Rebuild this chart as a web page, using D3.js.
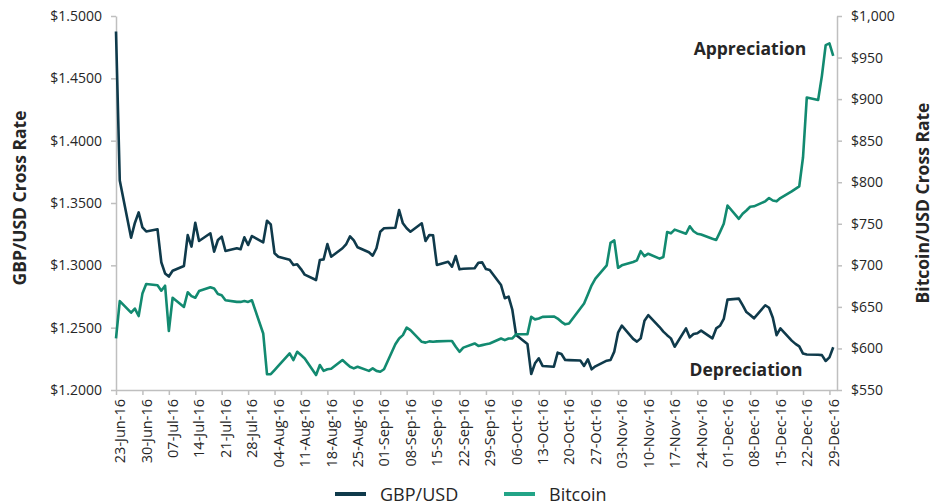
<!DOCTYPE html>
<html>
  <head>
    <meta charset="utf-8" />
    <style>
      body {
        margin: 0;
        background: #fff;
      }
      svg text {
        font-family: "Open Sans", Lato, sans-serif;
        fill: #262626;
      }
      .axis .domain {
        stroke: #bfbfbf;
        stroke-width: 1.5px;
      }
      .axis .tick line {
        stroke: #bfbfbf;
        stroke-width: 1.5px;
      }
      .axis text {
        font-size: 14px;
      }
      .title {
        font-size: 17.5px;
        font-weight: bold;
      }
      .note {
        font-size: 17.5px;
        font-weight: bold;
      }
    </style>
  </head>

  <body>
    <svg width="937" height="504"></svg>
  </body>

  <script src="https://d3js.org/d3.v7.min.js"></script>

  <script>
    // weekday dates (trading days)
    let dates = [
      "23-Jun-16", "24-Jun-16", "27-Jun-16", "28-Jun-16", "29-Jun-16", "30-Jun-16",
      "01-Jul-16", "04-Jul-16", "05-Jul-16", "06-Jul-16", "07-Jul-16", "08-Jul-16",
      "11-Jul-16", "12-Jul-16", "13-Jul-16", "14-Jul-16", "15-Jul-16", "18-Jul-16",
      "19-Jul-16", "20-Jul-16", "21-Jul-16", "22-Jul-16", "25-Jul-16", "26-Jul-16",
      "27-Jul-16", "28-Jul-16", "29-Jul-16",
      "01-Aug-16", "02-Aug-16", "03-Aug-16", "04-Aug-16", "05-Aug-16", "08-Aug-16",
      "09-Aug-16", "10-Aug-16", "11-Aug-16", "12-Aug-16", "15-Aug-16", "16-Aug-16",
      "17-Aug-16", "18-Aug-16", "19-Aug-16", "22-Aug-16", "23-Aug-16", "24-Aug-16",
      "25-Aug-16", "26-Aug-16", "29-Aug-16", "30-Aug-16", "31-Aug-16",
      "01-Sep-16", "02-Sep-16", "05-Sep-16", "06-Sep-16", "07-Sep-16", "08-Sep-16",
      "09-Sep-16", "12-Sep-16", "13-Sep-16", "14-Sep-16", "15-Sep-16", "16-Sep-16",
      "19-Sep-16", "20-Sep-16", "21-Sep-16", "22-Sep-16", "23-Sep-16", "26-Sep-16",
      "27-Sep-16", "28-Sep-16", "29-Sep-16", "30-Sep-16",
      "03-Oct-16", "04-Oct-16", "05-Oct-16", "06-Oct-16", "07-Oct-16", "10-Oct-16",
      "11-Oct-16", "12-Oct-16", "13-Oct-16", "14-Oct-16", "17-Oct-16", "18-Oct-16",
      "19-Oct-16", "20-Oct-16", "21-Oct-16", "24-Oct-16", "25-Oct-16", "26-Oct-16",
      "27-Oct-16", "28-Oct-16", "31-Oct-16",
      "01-Nov-16", "02-Nov-16", "03-Nov-16", "04-Nov-16", "07-Nov-16", "08-Nov-16",
      "09-Nov-16", "10-Nov-16", "11-Nov-16", "14-Nov-16", "15-Nov-16", "16-Nov-16",
      "17-Nov-16", "18-Nov-16", "21-Nov-16", "22-Nov-16", "23-Nov-16", "24-Nov-16",
      "25-Nov-16", "28-Nov-16", "29-Nov-16", "30-Nov-16",
      "01-Dec-16", "02-Dec-16", "05-Dec-16", "06-Dec-16", "07-Dec-16", "08-Dec-16",
      "09-Dec-16", "12-Dec-16", "13-Dec-16", "14-Dec-16", "15-Dec-16", "16-Dec-16",
      "19-Dec-16", "20-Dec-16", "21-Dec-16", "22-Dec-16", "23-Dec-16", "26-Dec-16",
      "27-Dec-16", "28-Dec-16", "29-Dec-16", "30-Dec-16",
    ];

    let gbpUsd = [
      1.4875, 1.368, 1.3222, 1.334, 1.3425, 1.3305,
      1.3272, 1.3289, 1.3025, 1.2935, 1.291, 1.2957,
      1.2995, 1.3243, 1.315, 1.3342, 1.3195, 1.3257,
      1.311, 1.3203, 1.323, 1.3115, 1.3137, 1.3129,
      1.3225, 1.3163, 1.3235,
      1.3185, 1.3358, 1.3329, 1.3097, 1.3069, 1.3045,
      1.3003, 1.3008, 1.297, 1.2925, 1.2882, 1.3043,
      1.3048, 1.3171, 1.3069, 1.3137, 1.3171, 1.3232,
      1.32, 1.3145, 1.3105, 1.3077, 1.3137,
      1.327, 1.3297, 1.3302, 1.3444, 1.3337, 1.3297,
      1.327, 1.3337, 1.3195, 1.3243, 1.324, 1.3003,
      1.3029, 1.2989, 1.3075, 1.2968, 1.2972, 1.2976,
      1.3021, 1.3024, 1.297, 1.2963,
      1.2842, 1.2736, 1.2749, 1.2642, 1.2441, 1.2369,
      1.2128, 1.2214, 1.2254, 1.2193, 1.2187, 1.23,
      1.2289, 1.2241, 1.224, 1.2237, 1.2193, 1.2246,
      1.2166, 1.219, 1.2235,
      1.2241, 1.2308, 1.246, 1.2516, 1.241, 1.2388,
      1.2414, 1.2555, 1.26, 1.2505, 1.2468, 1.244,
      1.2414, 1.2347, 1.2494, 1.2422, 1.2449, 1.2455,
      1.2476, 1.2414, 1.2494, 1.2515,
      1.257, 1.2725, 1.2733, 1.268, 1.2625, 1.2602,
      1.2575, 1.268, 1.266, 1.258, 1.244, 1.2494,
      1.2396, 1.237, 1.235, 1.2292, 1.2285, 1.2283,
      1.228, 1.2233, 1.2262, 1.2343,
    ];

    let bitcoin = [
      612, 657, 643, 648, 639, 666,
      677.5, 676, 669.5, 675.5, 621, 661,
      650, 667.6, 663, 661, 669, 673.5,
      672, 665.5, 664, 658, 656, 656,
      657, 656, 658,
      618, 569, 569, 574, 579, 594,
      586, 596, 592, 588, 568, 580,
      573, 575, 575.5, 586, 582, 578,
      576, 578, 573, 576, 573,
      572, 575, 605, 612, 616, 625,
      622, 608, 607, 608.5, 608, 608.5,
      609, 609, 602, 596, 601, 606,
      603, 604, 605, 606,
      612, 610, 612, 612, 617, 617,
      638, 635, 636, 638, 638.5, 636,
      632, 629, 630, 648, 654, 665,
      676, 684, 700,
      727, 730, 697, 700, 704, 706,
      717, 711, 714, 708, 710, 740,
      738.5, 743, 738, 747, 741, 738,
      737, 732, 730.5, 740,
      750, 772, 756, 762, 766, 770.5,
      771, 777, 781, 778, 777, 781,
      789, 792, 795, 830, 902, 899,
      928, 965, 967, 952,
    ];

    let xTickLabels = [
      "23-Jun-16", "30-Jun-16", "07-Jul-16", "14-Jul-16", "21-Jul-16", "28-Jul-16",
      "04-Aug-16", "11-Aug-16", "18-Aug-16", "25-Aug-16", "01-Sep-16", "08-Sep-16",
      "15-Sep-16", "22-Sep-16", "29-Sep-16", "06-Oct-16", "13-Oct-16", "20-Oct-16",
      "27-Oct-16", "03-Nov-16", "10-Nov-16", "17-Nov-16", "24-Nov-16", "01-Dec-16",
      "08-Dec-16", "15-Dec-16", "22-Dec-16", "29-Dec-16",
    ];
    let gbpTicks = [1.2, 1.25, 1.3, 1.35, 1.4, 1.45, 1.5];
    let btcTicks = [550, 600, 650, 700, 750, 800, 850, 900, 950, 1000];

    let seriesNames = ["GBP/USD", "Bitcoin"];
    let colors = { "GBP/USD": "#0f3a4b", Bitcoin: "#128a70" };

    let parse = d3.timeParse("%d-%b-%y");
    let gbpData = dates.map((d, i) => ({ date: parse(d), value: gbpUsd[i] }));
    let btcData = dates.map((d, i) => ({ date: parse(d), value: bitcoin[i] }));

    let svg = d3.select("svg");

    let plot = { left: 116, right: 837, top: 16, bottom: 390 };

    let x = d3
      .scaleTime()
      .domain([parse("23-Jun-16"), parse("31-Dec-16")])
      .range([plot.left, plot.right]);

    let yLeft = d3.scaleLinear().domain([1.2, 1.5]).range([plot.bottom, plot.top]);
    let yRight = d3.scaleLinear().domain([550, 1000]).range([plot.bottom, plot.top]);

    // left axis
    svg
      .append("g")
      .attr("class", "axis")
      .attr("transform", `translate(${plot.left},0)`)
      .call(
        d3
          .axisLeft(yLeft)
          .tickValues(gbpTicks)
          .tickSize(5)
          .tickSizeOuter(0)
          .tickPadding(9)
          .tickFormat((d) => "$" + d.toFixed(4))
      );

    // right axis
    svg
      .append("g")
      .attr("class", "axis")
      .attr("transform", `translate(${plot.right},0)`)
      .call(
        d3
          .axisRight(yRight)
          .tickValues(btcTicks)
          .tickSize(5)
          .tickSizeOuter(0)
          .tickPadding(9)
          .tickFormat(d3.format("$,"))
      );

    // bottom axis
    let xAxis = svg
      .append("g")
      .attr("class", "axis")
      .attr("transform", `translate(0,${plot.bottom})`)
      .call(
        d3
          .axisBottom(x)
          .tickValues(xTickLabels.map(parse))
          .tickSize(5)
          .tickSizeOuter(0)
          .tickFormat(d3.timeFormat("%d-%b-%y"))
      );

    xAxis
      .selectAll(".tick text")
      .attr("transform", "rotate(-90)")
      .attr("text-anchor", "end")
      .attr("x", -9)
      .attr("y", 0)
      .attr("dy", "0.6em")
      .style("font-size", "14.5px");

    // axis titles
    svg
      .append("text")
      .attr("class", "title")
      .attr("transform", "translate(26,198) rotate(-90)")
      .attr("text-anchor", "middle")
      .text("GBP/USD Cross Rate");

    svg
      .append("text")
      .attr("class", "title")
      .attr("transform", "translate(929,203) rotate(-90)")
      .attr("text-anchor", "middle")
      .text("Bitcoin/USD Cross Rate");

    // lines
    let lineLeft = d3
      .line()
      .x((d) => x(d.date))
      .y((d) => yLeft(d.value));

    let lineRight = d3
      .line()
      .x((d) => x(d.date))
      .y((d) => yRight(d.value));

    svg
      .append("path")
      .datum(gbpData)
      .attr("d", lineLeft)
      .style("fill", "none")
      .style("stroke", colors["GBP/USD"])
      .style("stroke-width", "2.6px")
      .style("stroke-linejoin", "round");

    svg
      .append("path")
      .datum(btcData)
      .attr("d", lineRight)
      .style("fill", "none")
      .style("stroke", colors["Bitcoin"])
      .style("stroke-width", "2.6px")
      .style("stroke-linejoin", "round");

    // annotations
    svg
      .append("text")
      .attr("class", "note")
      .attr("x", 750)
      .attr("y", 55)
      .attr("text-anchor", "middle")
      .text("Appreciation");

    svg
      .append("text")
      .attr("class", "note")
      .attr("x", 746)
      .attr("y", 376)
      .attr("text-anchor", "middle")
      .text("Depreciation");

    // legend
    let legendPos = [335, 504];
    let legend = svg
      .append("g")
      .selectAll("g")
      .data(seriesNames)
      .join("g")
      .attr("transform", (d, i) => `translate(${legendPos[i]},494)`);

    legend
      .append("line")
      .attr("x1", 0)
      .attr("x2", 31)
      .style("stroke", (d) => (d == "Bitcoin" ? "#22a487" : colors[d]))
      .style("stroke-width", "4px");

    legend
      .append("text")
      .attr("x", 45)
      .attr("y", 6.5)
      .style("font-size", "18px")
      .text((d) => d);
  </script>
</html>
